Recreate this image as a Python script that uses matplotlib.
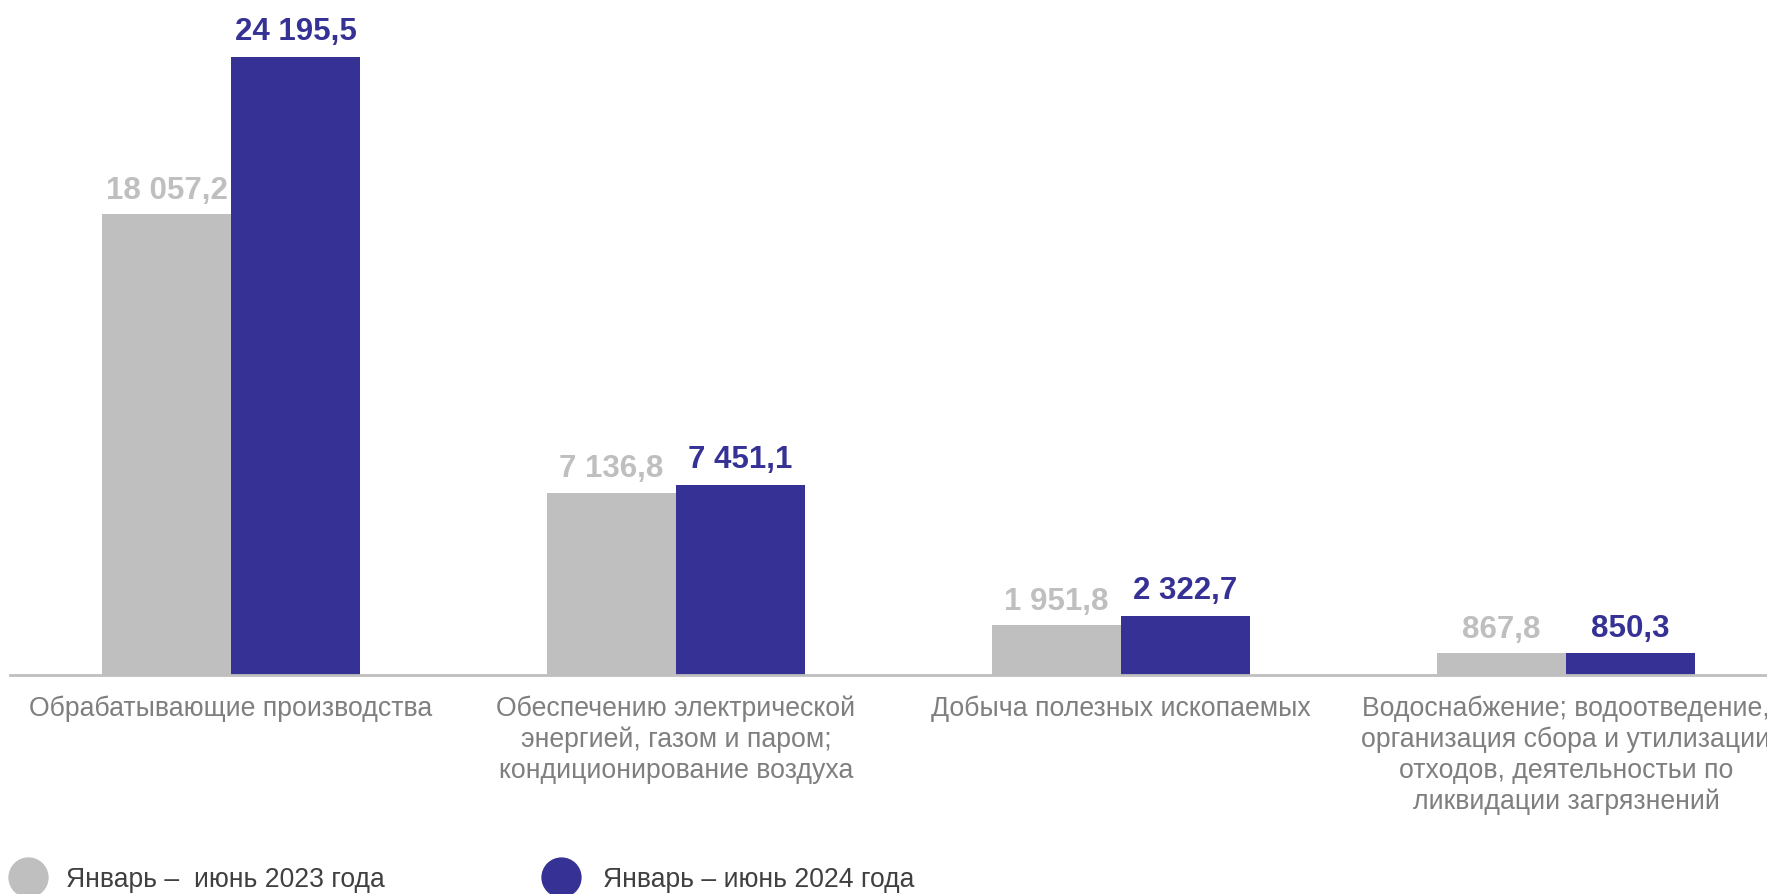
import matplotlib.pyplot as plt
from matplotlib.lines import Line2D

plt.rcParams["font.family"] = ["Liberation Sans", "DejaVu Sans"]

categories = [
    "Обрабатывающие производства",
    "Обеспечению электрической\nэнергией, газом и паром;\nкондиционирование воздуха",
    "Добыча полезных ископаемых",
    "Водоснабжение; водоотведение,\nорганизация сбора и утилизации\nотходов, деятельностьи по\nликвидации загрязнений",
]
values_2023 = [18057.2, 7136.8, 1951.8, 867.8]
values_2024 = [24195.5, 7451.1, 2322.7, 850.3]
labels_2023 = ["18 057,2", "7 136,8", "1 951,8", "867,8"]
labels_2024 = ["24 195,5", "7 451,1", "2 322,7", "850,3"]
series_names = ["Январь –  июнь 2023 года", "Январь – июнь 2024 года"]

GRAY = "#BFBFBF"
BLUE = "#363195"

W, H = 1767, 894
fig = plt.figure(figsize=(W / 100, H / 100), dpi=100)
ax = fig.add_axes([8.5 / W, 219 / H, 1780 / W, 675 / H])

x = list(range(len(categories)))
bw = 0.29
ax.bar([i - bw / 2 for i in x], values_2023, width=bw, color=GRAY)
ax.bar([i + bw / 2 for i in x], values_2024, width=bw, color=BLUE)

for i in x:
    ax.annotate(labels_2023[i], (i - bw / 2, values_2023[i]), xytext=(0, 11),
                textcoords="offset points", ha="center", va="baseline",
                fontsize=22.5, fontweight="bold", color=GRAY)
    ax.annotate(labels_2024[i], (i + bw / 2, values_2024[i]), xytext=(0, 12),
                textcoords="offset points", ha="center", va="baseline",
                fontsize=22.5, fontweight="bold", color=BLUE)

ax.set_xlim(-0.5, 3.5)
ax.set_ylim(0, 26430)
ax.set_xticks(x)
ax.set_xticklabels(categories, fontsize=19.2, color="#7F7F7F", linespacing=1.24)
ax.tick_params(axis="x", length=0, pad=14.5)
ax.set_yticks([])
for s in ["top", "right", "left"]:
    ax.spines[s].set_visible(False)
ax.spines["bottom"].set_color(GRAY)
ax.spines["bottom"].set_linewidth(2)
ax.spines["bottom"].set_bounds(-0.5 + 1.5 / 445, 3.5)

# legend
leg_x = [28, 561]
txt_x = [66, 603]
leg_y = [877, 877]
for name, c, lx, tx, ly in zip(series_names, [GRAY, BLUE], leg_x, txt_x, leg_y):
    fig.add_artist(Line2D([lx / W], [1 - ly / H], marker="o", markersize=28,
                          color=c, linestyle="none", transform=fig.transFigure))
    fig.text(tx / W, 1 - (ly + 3) / H, name, fontsize=19.1, color="#404040",
             ha="left", va="center")

fig.savefig("out.png", dpi=100)
